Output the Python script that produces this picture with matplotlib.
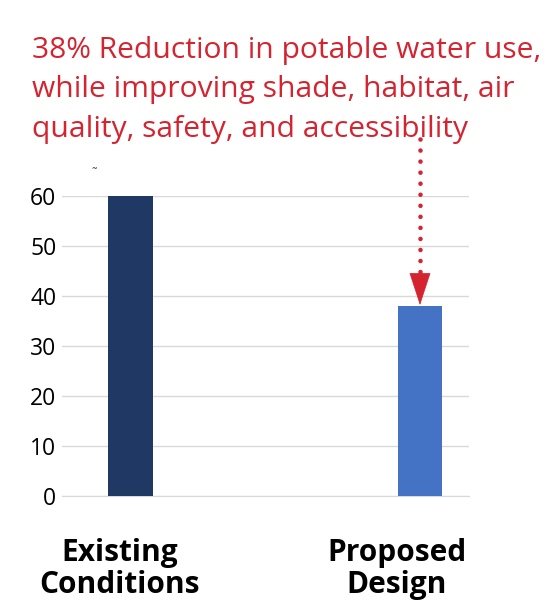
import matplotlib.pyplot as plt
import matplotlib.transforms as mtransforms

# data
categories = ['Existing\nConditions', 'Proposed\nDesign']
water_use = [60, 38]
bar_colors = ['#203864', '#4472C4']
y_ticks = [0, 10, 20, 30, 40, 50, 60]
note = ('38% Reduction in potable water use,\n'
        'while improving shade, habitat, air\n'
        'quality, safety, and accessibility')

plt.rcParams['font.family'] = ['Open Sans', 'DejaVu Sans']
red = '#D42430'

fig = plt.figure(figsize=(5.53, 6.01), dpi=100)
ax = fig.add_axes([0.112, 0.1747, 0.736, 0.499])

x = list(range(len(categories)))
ax.bar(x, water_use, width=0.155, color=bar_colors, zorder=3)

ax.set_xlim(-0.236, 1.169)
ax.set_ylim(0, 60)
ax.set_yticks(y_ticks)
ax.tick_params(axis='y', length=0, labelsize=16.5, pad=4)
ax.tick_params(axis='x', length=0, labelsize=21.5, pad=30)
ax.set_xticks(x)
ax.set_xticklabels(categories, fontweight='bold', linespacing=1.1)

# labels sit a bit left of the bar centres
for lbl, dx in zip(ax.get_xticklabels(), [-11, -23]):
    lbl.set_transform(lbl.get_transform() + mtransforms.ScaledTranslation(dx / 100, 0, fig.dpi_scale_trans))

ax.grid(axis='y', color='#d9d9d9', linewidth=1, zorder=0)
for side in ['top', 'right', 'left']:
    ax.spines[side].set_visible(False)
ax.spines['bottom'].set_color('#d9d9d9')

# red note + dotted arrow down to the proposed bar
fig.text(0.058, 1 - 36 / 601, note, color=red, fontsize=21.6,
         ha='left', va='top', linespacing=1.47)
ax.plot([1, 1], [71.4, 44.6], color=red, linewidth=3.3,
        linestyle=(0, (0.01, 2.4)), dash_capstyle='round', clip_on=False, zorder=4)
ax.annotate('', xy=(1, water_use[1] + 0.2), xytext=(1, 44.6), xycoords='data',
            annotation_clip=False,
            arrowprops=dict(arrowstyle='-|>,head_length=1.1,head_width=0.36',
                            mutation_scale=20, color=red, linewidth=0.5,
                            shrinkA=0, shrinkB=0))

fig.text(92 / 553, 1 - 174 / 601, '˜', fontsize=9, color='#404040', ha='left', va='center')

plt.savefig('out.png', dpi=100)
